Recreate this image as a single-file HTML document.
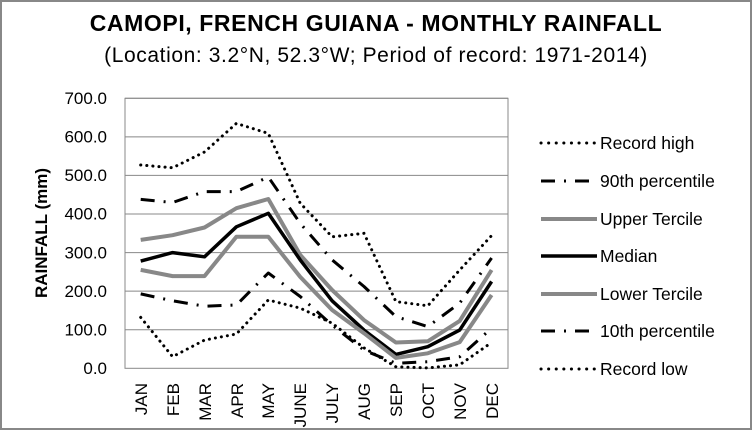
<!DOCTYPE html>
<html><head><style>
html,body{margin:0;padding:0;background:#fff}
svg{display:block}
text{font-family:"Liberation Sans",sans-serif;fill:#000}
</style></head><body>
<svg width="752" height="430" viewBox="0 0 752 430" xmlns="http://www.w3.org/2000/svg">
<rect x="1" y="1" width="750" height="428" fill="#fff" stroke="#888" stroke-width="2"/>
<text x="376" y="31" font-size="23" font-weight="bold" text-anchor="middle" letter-spacing="0.6">CAMOPI, FRENCH GUIANA - MONTHLY RAINFALL</text>
<text x="376" y="62" font-size="21" text-anchor="middle" letter-spacing="0.6">(Location: 3.2°N, 52.3°W; Period of record: 1971-2014)</text>
<g stroke="#888" stroke-width="1">
<line x1="125" y1="98.3" x2="508" y2="98.3"/>
<line x1="125" y1="136.9" x2="508" y2="136.9"/>
<line x1="125" y1="175.4" x2="508" y2="175.4"/>
<line x1="125" y1="214" x2="508" y2="214"/>
<line x1="125" y1="252.6" x2="508" y2="252.6"/>
<line x1="125" y1="291.1" x2="508" y2="291.1"/>
<line x1="125" y1="329.7" x2="508" y2="329.7"/>
<rect x="125" y="98.3" width="383" height="270" fill="none"/>
</g>
<g font-size="17" text-anchor="end">
<text x="107" y="104">700.0</text><text x="107" y="142.6">600.0</text><text x="107" y="181.1">500.0</text><text x="107" y="219.7">400.0</text><text x="107" y="258.3">300.0</text><text x="107" y="296.8">200.0</text><text x="107" y="335.4">100.0</text><text x="107" y="374">0.0</text>
</g>
<text transform="translate(47,233) rotate(-90)" font-size="17" font-weight="bold" text-anchor="middle">RAINFALL (mm)</text>
<g font-size="17" text-anchor="end">
<text transform="translate(147,383) rotate(-90)">JAN</text>
<text transform="translate(179,383) rotate(-90)">FEB</text>
<text transform="translate(211,383) rotate(-90)">MAR</text>
<text transform="translate(243,383) rotate(-90)">APR</text>
<text transform="translate(274,383) rotate(-90)">MAY</text>
<text transform="translate(306,383) rotate(-90)">JUNE</text>
<text transform="translate(338,383) rotate(-90)">JULY</text>
<text transform="translate(370,383) rotate(-90)">AUG</text>
<text transform="translate(402,383) rotate(-90)">SEP</text>
<text transform="translate(434,383) rotate(-90)">OCT</text>
<text transform="translate(466,383) rotate(-90)">NOV</text>
<text transform="translate(498,383) rotate(-90)">DEC</text>
</g>
<g fill="none" stroke-linejoin="round">
<polyline stroke="#000" stroke-width="3" stroke-dasharray="0.1 6" stroke-linecap="round" points="140.7,165 172.6,167.8 204.5,152 236.4,123.4 268.3,133.4 300.2,203.2 332.1,236.8 364,233.3 395.9,301.6 427.8,305.8 459.7,270 491.6,235.6"/>
<polyline stroke="#000" stroke-width="3" stroke-dasharray="14 9 2 9" points="140.7,199.4 172.6,202.5 204.5,191.6 236.4,191.6 268.3,177 300.2,223.3 332.1,259.9 364,286.5 395.9,316.6 427.8,326.6 459.7,303.1 491.6,258"/>
<polyline stroke="#888" stroke-width="4" points="140.7,239.9 172.6,235.2 204.5,227.5 236.4,208.2 268.3,199 300.2,254.9 332.1,290 364,320.1 395.9,342.5 427.8,341.3 459.7,320.9 491.6,270"/>
<polyline stroke="#000" stroke-width="3.5" points="140.7,261.1 172.6,252.6 204.5,256.8 236.4,226.8 268.3,213.3 300.2,259.9 332.1,300.8 364,330.1 395.9,354.4 427.8,346.7 459.7,330.1 491.6,281.5"/>
<polyline stroke="#888" stroke-width="4" points="140.7,269.9 172.6,276.1 204.5,276.1 236.4,236.8 268.3,236.8 300.2,276.9 332.1,310 364,333.2 395.9,357.9 427.8,353.3 459.7,342.1 491.6,295"/>
<polyline stroke="#000" stroke-width="3" stroke-dasharray="14 9 2 9" points="140.7,293.9 172.6,300.8 204.5,306.2 236.4,305 268.3,273 300.2,296.5 332.1,325.1 364,350.2 395.9,363.3 427.8,361.7 459.7,356.7 491.6,328.2"/>
<polyline stroke="#000" stroke-width="3" stroke-dasharray="0.1 6" stroke-linecap="round" points="140.7,317.4 172.6,356.7 204.5,340.1 236.4,334 268.3,300 300.2,308.1 332.1,323.2 364,347.9 395.9,366.8 427.8,367.9 459.7,364.8 491.6,342.5"/>
</g>
<g fill="none">
<line x1="541" y1="143" x2="597" y2="143" stroke="#000" stroke-width="3" stroke-dasharray="0.1 7.5" stroke-linecap="round"/>
<line x1="541" y1="181" x2="597" y2="181" stroke="#000" stroke-width="3" stroke-dasharray="14 9 2 9"/>
<line x1="541" y1="219" x2="597" y2="219" stroke="#888" stroke-width="4"/>
<line x1="541" y1="256" x2="597" y2="256" stroke="#000" stroke-width="3.5"/>
<line x1="541" y1="294" x2="597" y2="294" stroke="#888" stroke-width="4"/>
<line x1="541" y1="331" x2="597" y2="331" stroke="#000" stroke-width="3" stroke-dasharray="14 9 2 9"/>
<line x1="541" y1="369" x2="597" y2="369" stroke="#000" stroke-width="3" stroke-dasharray="0.1 7.5" stroke-linecap="round"/>
</g>
<g font-size="17.5">
<text x="600" y="149">Record high</text>
<text x="600" y="187">90th percentile</text>
<text x="600" y="225">Upper Tercile</text>
<text x="600" y="262">Median</text>
<text x="600" y="300">Lower Tercile</text>
<text x="600" y="337">10th percentile</text>
<text x="600" y="375">Record low</text>
</g>
</svg>
</body></html>
